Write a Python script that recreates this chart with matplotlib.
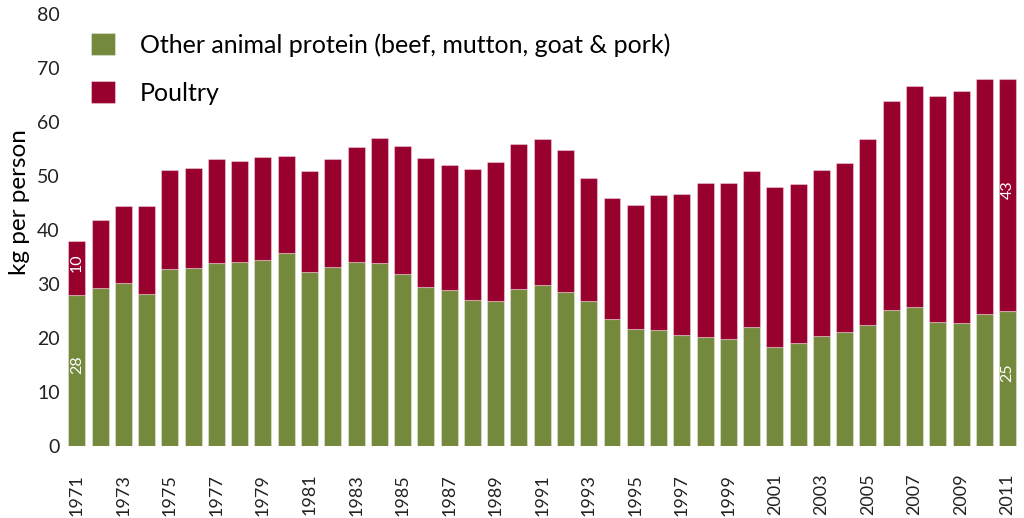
import numpy as np
import matplotlib.pyplot as plt

years = list(range(1971, 2012))

# kg per person, read per year
other_protein = [28, 29.2, 30.1, 28.1, 32.7, 32.9, 33.8, 34.0, 34.4, 35.8,
                 32.2, 33.1, 34.0, 33.9, 31.8, 29.4, 28.8, 27.0, 26.8, 29.0,
                 29.8, 28.5, 26.9, 23.5, 21.7, 21.4, 20.5, 20.1, 19.8, 22.1,
                 18.3, 19.0, 20.4, 21.2, 22.5, 25.2, 25.7, 23.0, 22.8, 24.4,
                 25]
totals = [38, 41.8, 44.4, 44.4, 51.2, 51.4, 53.1, 52.8, 53.6, 53.7,
          51.0, 53.2, 55.4, 57.1, 55.6, 53.4, 52.1, 51.3, 52.6, 55.9,
          56.9, 54.8, 49.6, 45.9, 44.7, 46.5, 46.7, 48.7, 48.7, 50.9,
          48.0, 48.6, 51.2, 52.4, 56.9, 63.8, 66.6, 64.8, 65.8, 68.0,
          68]
poultry = [round(t - o, 1) for t, o in zip(totals, other_protein)]

green = "#75893c"
crimson = "#98002e"

plt.rcParams["font.family"] = ["Lato", "DejaVu Sans"]

fig = plt.figure(figsize=(10.24, 5.18), dpi=100)
ax = fig.add_axes([65.2 / 1024, 72 / 518, 954 / 1024, 432 / 518])

x = np.arange(len(years))
ax.bar(x, other_protein, width=0.73, color=green,
       edgecolor=(1, 1, 1, 0.35), linewidth=0.8,
       label="Other animal protein (beef, mutton, goat & pork)")
ax.bar(x, poultry, width=0.73, bottom=other_protein, color=crimson,
       edgecolor=(1, 1, 1, 0.35), linewidth=0.8, label="Poultry")

# value labels on the first and last bars
for i in (0, len(years) - 1):
    ax.text(x[i], other_protein[i] / 2 + 1, f"{other_protein[i]:g}", rotation=90,
            ha="center", va="center", color="white", fontsize=11.5)
    ax.text(x[i], other_protein[i] + poultry[i] / 2 + 1, f"{poultry[i]:g}",
            rotation=90, ha="center", va="center", color="white", fontsize=11.5)

ax.set_xlim(-0.5, len(years) - 0.5)
ax.set_ylim(0, 80)
ax.set_yticks(range(0, 81, 10))
ax.set_xticks(x[::2])
ax.set_xticklabels([str(y) for y in years[::2]], rotation=90, fontsize=13,
                   color="#222222")
ax.tick_params(axis="y", labelsize=14, labelcolor="#222222", length=0, pad=4)
ax.tick_params(axis="x", length=0, pad=20)
for s in ax.spines.values():
    s.set_visible(False)

ax.set_ylabel("kg per person", fontsize=17.5)
ax.yaxis.set_label_coords(-0.037, 0.565)

ax.legend(loc="upper left", bbox_to_anchor=(91 / 1024, 1 - 33 / 518),
          bbox_transform=fig.transFigure, frameon=False, borderpad=0,
          borderaxespad=0, fontsize=18, handlelength=0.96, handleheight=0.96,
          handletextpad=1.0, labelspacing=0.98)

fig.savefig("out.png", dpi=100)
